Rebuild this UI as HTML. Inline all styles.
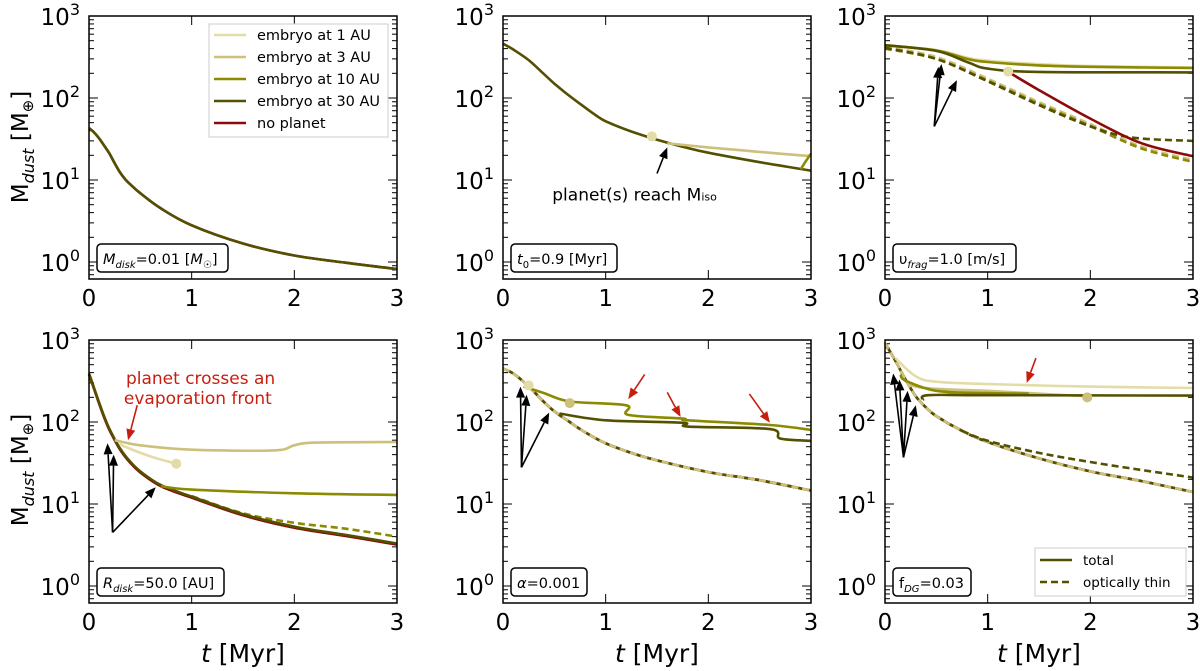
<!DOCTYPE html>
<html><head><meta charset="utf-8"><style>
html,body{margin:0;padding:0;background:#fff;}
svg{display:block;font-family:"DejaVu Sans","Liberation Sans",sans-serif;}
</style></head><body>
<svg id="fig" width="1200" height="671" viewBox="0 0 1200 671" xmlns="http://www.w3.org/2000/svg"></svg>
<script>
// ---- data (time in Myr, dust mass in Earth masses) ----
const xTicks = [0, 1, 2, 3];
const yTickExps = [0, 1, 2, 3];
const legendLabels = ["embryo at 1 AU", "embryo at 3 AU", "embryo at 10 AU", "embryo at 30 AU", "no planet"];
const panelLabels = ["Mdisk=0.01 [M☉]", "t0=0.9 [Myr]", "υfrag=1.0 [m/s]", "Rdisk=50.0 [AU]", "α=0.001", "fDG=0.03"];

// panel 1
const p1_main_t = [0, 0.05, 0.1, 0.15, 0.2, 0.25, 0.3, 0.35, 0.4, 0.5, 0.7, 1, 1.5, 2, 2.5, 3];
const p1_main_m = [43, 38, 32, 26, 21, 16, 12.5, 10.3, 8.9, 6.9, 4.5, 2.8, 1.68, 1.2, 0.98, 0.82];
// panel 2
const p2_main_t = [0, 0.1, 0.25, 0.4, 0.5, 0.6, 0.75, 0.9, 1, 1.25, 1.5, 1.75, 2, 2.5, 3];
const p2_main_m = [460, 390, 290, 195, 150, 118, 85, 62, 52, 39, 31, 25.5, 21.5, 16.5, 13];
const p2_e1_t = [1.6, 2, 2.5, 3];
const p2_e1_m = [28, 25, 22, 19.5];
const p2_e10_t = [2.9, 2.95, 3];
const p2_e10_m = [13.5, 17, 21];
const p2_dot_t = [1.45];
const p2_dot_m = [34];
// panel 3
const p3_e1_t = [0, 0.5, 0.8, 1, 1.5, 2, 3];
const p3_e1_m = [440, 385, 310, 285, 258, 245, 236];
const p3_e10_t = [0, 0.5, 0.8, 1, 1.5, 2, 3];
const p3_e10_m = [440, 380, 300, 275, 250, 240, 232];
const p3_e30_t = [0, 0.5, 0.8, 1, 1.5, 3];
const p3_e30_m = [440, 375, 275, 228, 208, 205];
const p3_np_t = [1.2, 1.5, 2, 2.5, 3];
const p3_np_m = [208, 125, 56, 28, 19.5];
const p3_dash_t = [0, 0.5, 1, 1.5, 2, 2.5, 3];
const p3_dash_m = [420, 316, 172, 89, 48, 25.5, 17.5];
const p3_dash30_t = [0, 0.5, 1, 1.5, 2, 2.4, 3];
const p3_dash30_m = [410, 300, 160, 82, 45, 33, 30];
// panel 4
const p4_main_t = [0, 0.05, 0.1, 0.15, 0.2, 0.3, 0.4, 0.5, 0.7, 1, 1.5, 2, 2.5, 3];
const p4_main_m = [390, 260, 170, 115, 82, 48, 33, 25, 17, 12.3, 7.5, 5.3, 4.2, 3.3];
const p4_dash_t = [1, 1.5, 2, 2.5, 3];
const p4_dash_m = [12.5, 7.7, 5.9, 5, 4];
const p4_e1_t = [0.25, 0.5, 1, 1.8, 2, 2.2, 3];
const p4_e1_m = [60, 52, 46, 45, 52, 56, 57];
const p4_e3_t = [0.3, 0.35, 0.6, 0.85];
const p4_e3_m = [55, 50, 38, 31];
const p4_e10_t = [0.7, 1, 2, 3];
const p4_e10_m = [16.5, 15, 13.5, 12.9];
// panel 5
const p5_main_t = [0, 0.1, 0.2, 0.3, 0.4, 0.5, 0.65, 0.8, 1, 1.25, 1.5, 2, 2.5, 3];
const p5_main_m = [450, 390, 310, 235, 175, 135, 100, 75, 55, 42, 34, 24.5, 19.5, 14.6];
const p5_e10_t = [0.2, 0.4, 0.65, 1.2, 1.22, 1.75, 1.8, 2.6, 3];
const p5_e10_m = [270, 225, 178, 160, 122, 110, 105, 92, 80];
const p5_e30_t = [0.55, 1, 1.75, 1.8, 2.6, 2.7, 3];
const p5_e30_m = [127, 105, 98, 88, 82, 63, 59];
// panel 6
const p6_main_t = [0, 0.1, 0.2, 0.3, 0.4, 0.5, 0.75, 1, 1.5, 2, 2.5, 3];
const p6_main_m = [920, 560, 330, 205, 150, 118, 78, 57, 36, 25, 19, 14];
const p6_e1_t = [0.1, 0.3, 0.5, 1, 2, 3];
const p6_e1_m = [600, 360, 310, 290, 270, 260];
const p6_e3_t = [0.15, 0.3, 1, 1.4, 2];
const p6_e3_m = [420, 270, 240, 225, 205];
const p6_e10_t = [0.15, 0.2, 0.5, 1, 1.4];
const p6_e10_m = [380, 320, 240, 225, 222];
const p6_e30_t = [0.37, 0.42, 1, 3];
const p6_e30_m = [185, 212, 212, 210];
const p6_dash_t = [0.75, 1, 1.5, 2, 2.5, 3];
const p6_dash_m = [78, 59, 42, 32.5, 26, 21];

// ---- layout ----
const NS = "http://www.w3.org/2000/svg";
const svg = document.getElementById('fig');
const colX = [89, 503, 885], rowY = [16, 340], PW = 308, PH = 263;
const DEC = 82;
const C1 = "#e3dca6", C3 = "#cdc07a", C10 = "#8c8a00", C30 = "#535000", CNP = "#8b0a0a";
function mk(tag, attrs, parent) { const e = document.createElementNS(NS, tag); for (const k in attrs) e.setAttribute(k, attrs[k]); (parent || svg).appendChild(e); return e; }
function axes(c, r) {
  const x0 = colX[c], y0 = rowY[r];
  return { x0, y0, sx: t => x0 + t / 3 * PW, sy: m => y0 + (3 - Math.log10(m)) * DEC };
}
function pathD(pts) {
  let d = "M" + pts[0][0].toFixed(1) + "," + pts[0][1].toFixed(1);
  for (let i = 0; i < pts.length - 1; i++) {
    const p0 = pts[Math.max(0, i - 1)], p1 = pts[i], p2 = pts[i + 1], p3 = pts[Math.min(pts.length - 1, i + 2)];
    const c1 = [p1[0] + (p2[0] - p0[0]) / 6, p1[1] + (p2[1] - p0[1]) / 6];
    const c2 = [p2[0] - (p3[0] - p1[0]) / 6, p2[1] - (p3[1] - p1[1]) / 6];
    d += " C" + c1.map(v => v.toFixed(1)) + " " + c2.map(v => v.toFixed(1)) + " " + p2[0].toFixed(1) + "," + p2[1].toFixed(1);
  }
  return d;
}
function series(ax, ts, ms, color, name, dash, g) {
  const pts = ts.map((t, i) => [ax.sx(t), ax.sy(ms[i])]);
  const p = mk('path', { d: pathD(pts), fill: "none", stroke: color, "stroke-width": 2.6, "stroke-linejoin": "round" }, g);
  if (dash) p.setAttribute('stroke-dasharray', '7,4');
  
  
}
function dot(ax, t, m, color, name, g) {
  const c = mk('circle', { cx: ax.sx(t), cy: ax.sy(m), r: 5, fill: color }, g);
  
  
}
function arrow(ax, t1, m1, t2, m2, color, g) {
  const x1 = ax.sx(t1), y1 = ax.sy(m1), x2 = ax.sx(t2), y2 = ax.sy(m2);
  const a = Math.atan2(y2 - y1, x2 - x1), L = 11, W = 4.5;
  const bx = x2 - L * Math.cos(a), by = y2 - L * Math.sin(a);
  const grp = mk('g', {}, g);
  
  
  mk('line', { x1, y1, x2: bx, y2: by, stroke: color, "stroke-width": 1.6 }, grp);
  mk('polygon', { points: `${x2},${y2} ${bx - W * Math.sin(a)},${by + W * Math.cos(a)} ${bx + W * Math.sin(a)},${by - W * Math.cos(a)}`, fill: color }, grp);
}
function frame(c, r, idx) {
  const ax = axes(c, r);
  const g = mk('g', {});
  
  
  ax.g = g;
  const tg = mk('g', { stroke: "#000", "stroke-width": 1 }, g);
  for (let e = 0; e <= 3; e++) {
    const y = ax.sy(Math.pow(10, e));
    mk('line', { x1: ax.x0, y1: y, x2: ax.x0 + 9, y2: y }, tg);
    mk('line', { x1: ax.x0 + PW, y1: y, x2: ax.x0 + PW - 9, y2: y }, tg);
  }
  for (let e = -1; e < 3; e++) for (let k = 2; k <= 9; k++) {
    const v = k * Math.pow(10, e), y = ax.sy(v);
    if (y > ax.y0 + PH || y < ax.y0) continue;
    mk('line', { x1: ax.x0, y1: y, x2: ax.x0 + 5, y2: y }, tg);
    mk('line', { x1: ax.x0 + PW, y1: y, x2: ax.x0 + PW - 5, y2: y }, tg);
  }
  xTicks.forEach(t => {
    const x = ax.sx(t);
    mk('line', { x1: x, y1: ax.y0 + PH, x2: x, y2: ax.y0 + PH - 9 }, tg);
    mk('line', { x1: x, y1: ax.y0, x2: x, y2: ax.y0 + 9 }, tg);
    const tl = mk('text', { x, y: ax.y0 + PH + 27, "font-size": 23, "text-anchor": "middle" }, g);
    tl.textContent = t;
    
    
  });
  yTickExps.forEach(e => {
    const y = ax.sy(Math.pow(10, e));
    const tl = mk('text', { x: ax.x0 - 9, y: y + 9, "font-size": 23, "text-anchor": "end" }, g);
    tl.innerHTML = '10<tspan dy="-10" font-size="16">' + e + '</tspan>';
    
    
  });
  return ax;
}
function finishFrame(ax) {
  const b = mk('rect', { x: ax.x0, y: ax.y0, width: PW, height: PH, fill: "none", stroke: "#000", "stroke-width": 1.5 }, ax.g);
  
  
}
function labelBox(ax, html, w, name) {
  const g = mk('g', {}, ax.g);
  
  
  mk('rect', { x: ax.x0 + 8, y: ax.y0 + PH - 35, width: w, height: 28, rx: 4, fill: "#fff", stroke: "#000", "stroke-width": 1.5 }, g);
  const t = mk('text', { x: ax.x0 + 14, y: ax.y0 + PH - 15, "font-size": 14.5 }, g);
  t.innerHTML = html;
}
function txt(x, y, s, size, color, name, anchor, extra) {
  const t = mk('text', Object.assign({ x, y, "font-size": size, fill: color || "#000", "text-anchor": anchor || "start" }, extra || {}));
  t.innerHTML = s;
  
  
  return t;
}

// Panel 1
let ax = frame(0, 0, 0);
series(ax, p1_main_t, p1_main_m, CNP, 'no-planet-line', false, ax.g);
series(ax, p1_main_t, p1_main_m, C30, 'total-line', false, ax.g);
labelBox(ax, '<tspan font-style="italic">M</tspan><tspan font-style="italic" font-size="10" dy="4">disk</tspan><tspan dy="-4">=0.01 [</tspan><tspan font-style="italic">M</tspan><tspan font-size="10" dy="4">☉</tspan><tspan dy="-4">]</tspan>', 131, 'panel-label-mdisk');
{
  const lg = mk('g', {}, ax.g);
  
  
  mk('rect', { x: 209, y: 24, width: 179, height: 113, fill: "#fff", stroke: "#ccc", "stroke-width": 1 }, lg);
  const cols = [C1, C3, C10, C30, CNP];
  legendLabels.forEach((l, i) => {
    const y = 35 + i * 22;
    const e = mk('g', {}, lg);
    
    
    mk('line', { x1: 214, y1: y, x2: 246, y2: y, stroke: cols[i], "stroke-width": 2.6 }, e);
    const t = mk('text', { x: 257, y: y + 5, "font-size": 14.5 }, e);
    t.textContent = l;
  });
}
finishFrame(ax);

// Panel 2
ax = frame(1, 0, 1);
series(ax, p2_main_t, p2_main_m, C30, 'total-line', false, ax.g);
series(ax, p2_e1_t, p2_e1_m, C3, 'embryo-1au-line', false, ax.g);
series(ax, p2_e10_t, p2_e10_m, C10, 'embryo-10au-line', false, ax.g);
dot(ax, p2_dot_t[0], p2_dot_m[0], C1, 'isolation-marker', ax.g);
arrow(ax, 1.5, 12, 1.6, 25, "#000", ax.g);
txt(ax.sx(0.48), ax.sy(5.6), 'planet(s) reach M<tspan font-size="11">iso</tspan>', 17, "#000", 'annotation-miso');
labelBox(ax, '<tspan font-style="italic">t</tspan><tspan font-size="10" dy="4">0</tspan><tspan dy="-4">=0.9 [Myr]</tspan>', 106, 'panel-label-t0');
finishFrame(ax);

// Panel 3
ax = frame(2, 0, 2);
series(ax, p3_dash_t, p3_dash_m, C3, 'optically-thin-1au', true, ax.g);
series(ax, p3_dash_t, p3_dash_m.map(v => v * 0.95), C10, 'optically-thin-10au', true, ax.g);
series(ax, p3_dash30_t, p3_dash30_m, C30, 'optically-thin-30au', true, ax.g);
series(ax, p3_np_t, p3_np_m, CNP, 'no-planet-line', false, ax.g);
series(ax, p3_e1_t, p3_e1_m, C1, 'embryo-1au-line', false, ax.g);
series(ax, p3_e10_t, p3_e10_m, C10, 'embryo-10au-line', false, ax.g);
series(ax, p3_e30_t, p3_e30_m, C30, 'embryo-30au-line', false, ax.g);
dot(ax, 1.2, 210, C1, 'isolation-marker', ax.g);
arrow(ax, 0.48, 45, 0.55, 260, "#000", ax.g);
arrow(ax, 0.48, 45, 0.52, 240, "#000", ax.g);
arrow(ax, 0.48, 45, 0.7, 165, "#000", ax.g);
labelBox(ax, 'υ<tspan font-style="italic" font-size="10" dy="4">frag</tspan><tspan dy="-4">=1.0 [m/s]</tspan>', 123, 'panel-label-vfrag');
finishFrame(ax);

// Panel 4
ax = frame(0, 1, 3);
series(ax, p4_main_t, p4_main_m.map(v => v * 0.97), CNP, 'no-planet-line', false, ax.g);
series(ax, p4_dash_t, p4_dash_m, C10, 'optically-thin-line', true, ax.g);
series(ax, p4_main_t, p4_main_m, C30, 'total-line', false, ax.g);
series(ax, p4_e1_t, p4_e1_m, C3, 'embryo-1au-line', false, ax.g);
series(ax, p4_e3_t, p4_e3_m, C1, 'embryo-3au-line', false, ax.g);
series(ax, p4_e10_t, p4_e10_m, C10, 'embryo-10au-line', false, ax.g);
dot(ax, 0.85, 31, C1, 'isolation-marker', ax.g);
arrow(ax, 0.23, 4.5, 0.18, 55, "#000", ax.g);
arrow(ax, 0.23, 4.5, 0.24, 40, "#000", ax.g);
arrow(ax, 0.23, 4.5, 0.65, 16, "#000", ax.g);
arrow(ax, 0.47, 160, 0.38, 60, "#c81e0f", ax.g);
txt(ax.sx(0.36), ax.y0 + 44, 'planet crosses an', 17, "#c81e0f", 'annotation-evaporation');
txt(ax.sx(0.34), ax.y0 + 64, 'evaporation front', 17, "#c81e0f", 'annotation-evaporation');
labelBox(ax, '<tspan font-style="italic">R</tspan><tspan font-style="italic" font-size="10" dy="4">disk</tspan><tspan dy="-4">=50.0 [AU]</tspan>', 127, 'panel-label-rdisk');
finishFrame(ax);

// Panel 5
ax = frame(1, 1, 4);
series(ax, p5_main_t, p5_main_m, CNP, 'no-planet-line', false, ax.g);
series(ax, p5_main_t, p5_main_m, C30, 'total-line', false, ax.g);
series(ax, p5_main_t, p5_main_m, C3, 'optically-thin-line', true, ax.g);
series(ax, p5_e10_t, p5_e10_m, C10, 'embryo-10au-line', false, ax.g);
series(ax, p5_e30_t, p5_e30_m, C30, 'embryo-30au-line', false, ax.g);
dot(ax, 0.25, 280, C1, 'isolation-marker', ax.g);
dot(ax, 0.65, 170, C3, 'isolation-marker', ax.g);
arrow(ax, 0.18, 28, 0.17, 270, "#000", ax.g);
arrow(ax, 0.18, 28, 0.23, 215, "#000", ax.g);
arrow(ax, 0.18, 28, 0.45, 130, "#000", ax.g);
arrow(ax, 1.38, 380, 1.22, 190, "#c81e0f", ax.g);
arrow(ax, 1.6, 230, 1.73, 115, "#c81e0f", ax.g);
arrow(ax, 2.4, 220, 2.6, 98, "#c81e0f", ax.g);
labelBox(ax, '<tspan font-style="italic">α</tspan>=0.001', 76, 'panel-label-alpha');
finishFrame(ax);

// Panel 6
ax = frame(2, 1, 5);
series(ax, p6_main_t, p6_main_m, CNP, 'no-planet-line', false, ax.g);
series(ax, p6_main_t, p6_main_m, C30, 'total-line', false, ax.g);
series(ax, p6_main_t, p6_main_m, C3, 'optically-thin-line', true, ax.g);
series(ax, p6_dash_t, p6_dash_m, C30, 'optically-thin-30au', true, ax.g);
series(ax, p6_e1_t, p6_e1_m, C1, 'embryo-1au-line', false, ax.g);
series(ax, p6_e3_t, p6_e3_m, C3, 'embryo-3au-line', false, ax.g);
series(ax, p6_e10_t, p6_e10_m, C10, 'embryo-10au-line', false, ax.g);
series(ax, p6_e30_t, p6_e30_m, C30, 'embryo-30au-line', false, ax.g);
dot(ax, 1.97, 200, C3, 'isolation-marker', ax.g);
arrow(ax, 0.18, 37, 0.08, 390, "#000", ax.g);
arrow(ax, 0.18, 37, 0.14, 330, "#000", ax.g);
arrow(ax, 0.18, 37, 0.22, 240, "#000", ax.g);
arrow(ax, 0.18, 37, 0.3, 160, "#000", ax.g);
arrow(ax, 1.47, 600, 1.38, 300, "#c81e0f", ax.g);
labelBox(ax, 'f<tspan font-style="italic" font-size="10" dy="4">DG</tspan><tspan dy="-4">=0.03</tspan>', 78, 'panel-label-fdg');
{
  const lg = mk('g', {}, ax.g);
  
  
  mk('rect', { x: 1035, y: 548, width: 151, height: 48, fill: "#fff", stroke: "#ccc" }, lg);
  const e1 = mk('g', {}, lg);
  
  
  mk('line', { x1: 1040, y1: 560, x2: 1072, y2: 560, stroke: C30, "stroke-width": 2.6 }, e1);
  mk('text', { x: 1083, y: 565, "font-size": 13.5 }, e1).textContent = "total";
  const e2 = mk('g', {}, lg);
  
  
  mk('line', { x1: 1040, y1: 582, x2: 1072, y2: 582, stroke: C30, "stroke-width": 2.6, "stroke-dasharray": "7,4" }, e2);
  mk('text', { x: 1083, y: 587, "font-size": 13.5 }, e2).textContent = "optically thin";
}
finishFrame(ax);

// axis titles
[147, 470].forEach((cy) => {
  txt(0, 0, 'M<tspan font-style="italic" font-size="16" dy="6">dust</tspan><tspan dy="-6"> [M</tspan><tspan font-size="15" dy="5">⊕</tspan><tspan dy="-5">]</tspan>', 23, "#000", 'y-axis-title', 'middle', { transform: `translate(28,${cy}) rotate(-90)` });
});
colX.forEach(x0 => {
  txt(x0 + PW / 2, 662, '<tspan font-style="italic">t</tspan> [Myr]', 25, "#000", 'x-axis-title', 'middle');
});
</script>
</body></html>
